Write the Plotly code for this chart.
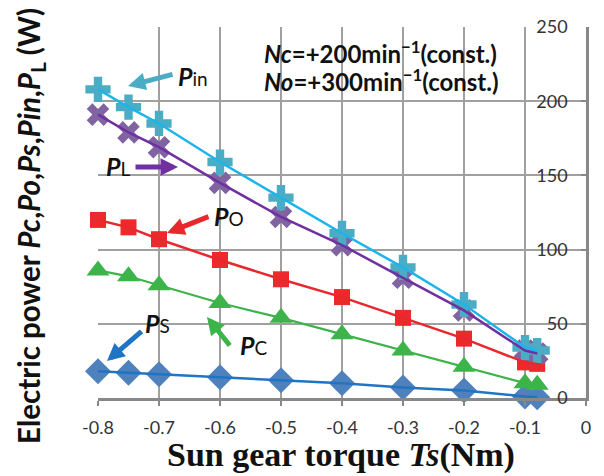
import plotly.graph_objects as go

# ---- data ----
torque = [-0.8, -0.75, -0.7, -0.6, -0.5, -0.4, -0.3, -0.2, -0.1, -0.08]
p_in = [208, 196, 185, 159, 135, 111, 88, 63, 34, 32]
p_l = [191, 179, 169, 145, 122, 103, 81, 59, 32, 30]
p_o = [120, 115, 107, 93, 80, 68, 54, 40, 24, 23]
p_c = [86, 82, 76, 64, 54, 43, 32, 21, 10, 9]
p_s = [18, 17, 16, 14, 12, 10, 7, 5, 1, 0.5]

x_ticks = [-0.8, -0.7, -0.6, -0.5, -0.4, -0.3, -0.2, -0.1, 0]
x_tick_text = ["-0.8", "-0.7", "-0.6", "-0.5", "-0.4", "-0.3", "-0.2", "-0.1", "0"]
y_ticks = [0, 50, 100, 150, 200, 250]
y_tick_text = ["0", "50", "100", "150", "200", "250"]

# ---- layout geometry (pixels) ----
W, H = 604, 476
L, R, T, B = 98, 18, 27, 78
X0, X1 = -0.8, 0.0
Y0, Y1 = 0.0, 250.0


def px2x(px):
    return X0 + (px - L) / (W - L - R) * (X1 - X0)


def px2y(py):
    return Y0 + (H - B - py) / (H - B - T) * (Y1 - Y0)


def px2paper(px, py):
    return (px - L) / (W - L - R), (H - B - py) / (H - B - T)


series = [
    ("Ps", p_s, "diamond", 20, "#4f81bd", "#1f74c4", 2.5),
    ("Pc", p_c, "triangle-up", 20, "#3cb44a", "#3cb44a", 2.2),
    ("Po", p_o, "square", 16, "#ec2a2c", "#e8282c", 2.5),
    ("PL", p_l, "x", 20, "#8064a2", "#7030a0", 2.5),
    ("Pin", p_in, "cross", 21, "#4bacc6", "#1cb4ea", 2.5),
]

fig = go.Figure()
for name, ys, sym, size, mcol, lcol, lw in series:
    fig.add_trace(go.Scatter(
        x=torque, y=ys, mode="markers", name=name,
        marker=dict(symbol=sym, size=size, color=mcol, line=dict(width=0)),
        cliponaxis=False, showlegend=False))
for name, ys, sym, size, mcol, lcol, lw in series:
    fig.add_trace(go.Scatter(
        x=torque, y=ys, mode="lines", name=name + " line",
        line=dict(color=lcol, width=lw),
        cliponaxis=False, showlegend=False))

ann = []
label_font = dict(family="Lato", size=25, color="#111111")


def add_label(text, left_px, mid_px):
    ann.append(dict(x=px2x(left_px), y=px2y(mid_px), xref="x", yref="y",
                    text=text, showarrow=False, xanchor="left", yanchor="middle",
                    font=label_font))


def add_arrow(head_px, tail_px, color):
    ann.append(dict(x=px2x(head_px[0]), y=px2y(head_px[1]), xref="x", yref="y",
                    ax=tail_px[0] - head_px[0], ay=tail_px[1] - head_px[1],
                    axref="pixel", ayref="pixel", text="", showarrow=True,
                    arrowhead=2, arrowsize=0.7, arrowwidth=5, arrowcolor=color,
                    standoff=0, startstandoff=0))


add_label("<b><i>P</i></b><span style='font-size:19px'>in</span>", 176, 76)
add_arrow((128, 86), (174, 74), "#4bacc6")
add_label("<b><i>P</i></b><span style='font-size:19px'>L</span>", 104, 166)
add_arrow((178, 167), (134, 167), "#7030a0")
add_label("<b><i>P</i></b><span style='font-size:19px'>O</span>", 212, 216)
add_arrow((167, 233), (210, 216), "#e8282c")
add_label("<b><i>P</i></b><span style='font-size:19px'>S</span>", 143, 323)
add_arrow((107, 361), (143, 330), "#1f74c4")
add_label("<b><i>P</i></b><span style='font-size:19px'>C</span>", 238, 345)
add_arrow((207, 317), (231, 347), "#3cb44a")

cond_font = dict(family="Lato", size=24, color="#111111")
ann.append(dict(x=px2x(262), y=px2y(52), xref="x", yref="y", showarrow=False,
                xanchor="left", yanchor="middle", font=cond_font,
                text="<b><i>Nc</i>=+200min<sup>−1</sup>(const.)</b>"))
ann.append(dict(x=px2x(262), y=px2y(80), xref="x", yref="y", showarrow=False,
                xanchor="left", yanchor="middle", font=cond_font,
                text="<b><i>No</i>=+300min<sup>−1</sup>(const.)</b>"))

# axis titles (positioned in pixels, converted to paper coords)
xt_x, xt_y = px2paper(341, 455)
ann.append(dict(x=xt_x, y=xt_y, xref="paper", yref="paper",
                showarrow=False, xanchor="center", yanchor="middle",
                text="<b>Sun gear torque <i>Ts</i>(Nm)</b>",
                font=dict(family="Liberation Serif", size=34, color="#111111")))
yt_x, yt_y = px2paper(30, 226)
ann.append(dict(x=yt_x, y=yt_y, xref="paper", yref="paper",
                showarrow=False, xanchor="center", yanchor="middle", textangle=-90,
                text="<b>Electric power <i>Pc</i>,<i>Po</i>,<i>Ps</i>,<i>Pin</i>,<i>P</i><sub>L</sub> (W)</b>",
                font=dict(family="Lato", size=29.5, color="#111111")))

fig.update_layout(
    width=W, height=H,
    margin=dict(l=L, r=R, t=T, b=B, autoexpand=False),
    paper_bgcolor="white", plot_bgcolor="white",
    annotations=ann,
    xaxis=dict(range=[X0, X1], tickvals=x_ticks, ticktext=x_tick_text,
               showgrid=True, gridcolor="#a0a0a0", gridwidth=1.5,
               showline=True, linecolor="#888888", linewidth=3,
               ticks="outside", ticklen=5, tickwidth=2, tickcolor="#888888",
               zeroline=False, ticklabelstandoff=6, ticklabeloverflow="allow",
               tickfont=dict(family="Lato", size=18, color="#333333")),
    yaxis=dict(range=[Y0, Y1], tickvals=y_ticks, ticktext=y_tick_text, side="right",
               showgrid=True, gridcolor="#a0a0a0", gridwidth=1.5,
               showline=True, linecolor="#888888", linewidth=3,
               ticks="inside", ticklen=5, tickwidth=2, tickcolor="#888888",
               ticklabelposition="inside", ticklabeloverflow="allow", zeroline=False,
               ticklabelstandoff=14,
               tickfont=dict(family="Lato", size=18, color="#333333")),
)

fig.write_html("out.html", config={"displayModeBar": False},
               post_script="document.body.style.margin='0';")
